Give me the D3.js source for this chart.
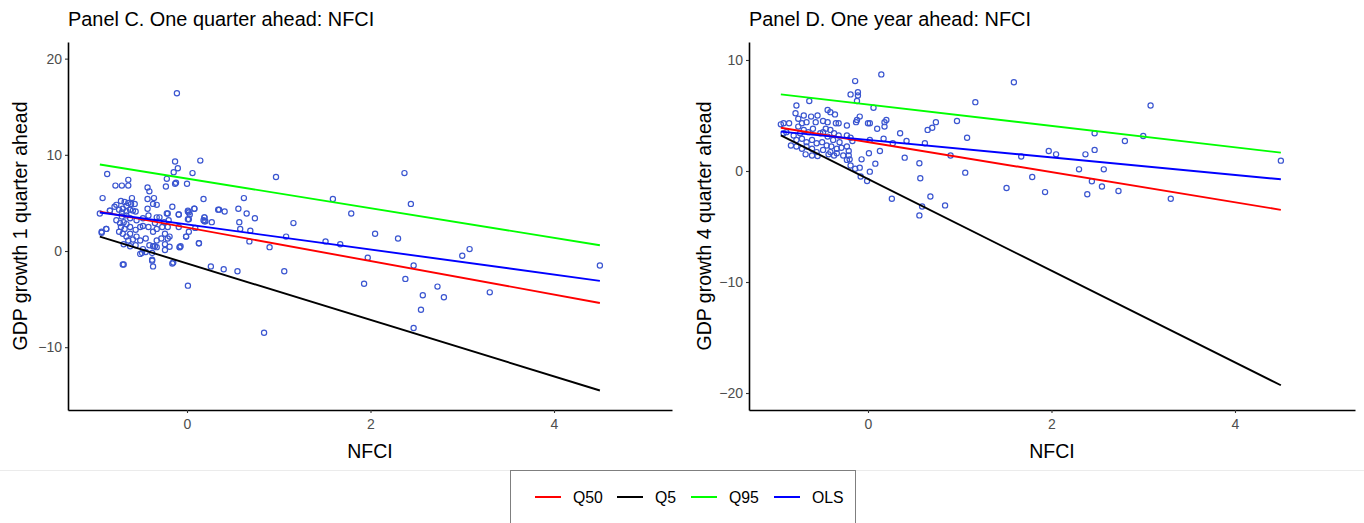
<!DOCTYPE html>
<html>
<head>
<meta charset="utf-8">
<script src="https://cdn.jsdelivr.net/npm/d3@7"></script>
<style>
  body { margin: 0; background: #fff; }
  svg { display: block; font-family: "Liberation Sans", Arial, sans-serif; }
</style>
</head>
<body>
<svg id="chart" width="1364" height="523"></svg>
<script>
// ---- data ----
const seriesNames = ["Q50", "Q5", "Q95", "OLS"];
const seriesColors = ["#ff0000", "#000000", "#00ff00", "#0000ff"];
const lineX = [-0.95, 4.5];

// Panel C: one quarter ahead, line endpoints at lineX
const cLines = {
  Q50: [4.1, -5.4],
  Q5: [1.5, -14.5],
  Q95: [9.0, 0.6],
  OLS: [4.0, -3.1]
};
// Panel D: one year ahead
const dLines = {
  Q50: [3.9, -3.5],
  Q5: [3.2, -19.3],
  Q95: [6.9, 1.65],
  OLS: [3.55, -0.75]
};

const cPoints = [
  [-0.11,16.4],[-0.13,9.3],[0.145,9.4],[-0.1,8.6],[-0.145,8.2],[0.06,8.1],[-0.87,8.0],[0.97,7.7],
  [-0.22,7.5],[-0.64,7.4],[-0.78,6.8],[-0.71,6.8],[-0.64,6.8],[-0.12,7.1],[-0.13,7.0],[0.0,7.0],
  [-0.23,6.7],[-0.43,6.6],[-0.41,6.2],[-0.92,5.5],[-0.6,5.5],[-0.43,5.4],[-0.36,5.5],[0.18,5.4],
  [0.62,5.5],[-0.16,4.6],[0.08,4.4],[0.35,4.3],[0.41,4.1],[0.56,4.4],[0.01,4.2],[0.02,4.0],
  [-0.09,3.8],[-0.22,3.9],[0.65,3.9],[0.74,3.4],[0.19,3.5],[0.18,3.2],[0.19,3.1],[0.27,3.0],
  [0.57,3.0],[1.16,2.9],[0.58,2.3],[0.69,2.1],[0.02,3.3],[-0.09,2.5],[0.09,2.4],[0.02,2.0],
  [1.08,1.5],[-0.01,1.5],[0.68,1.0],[0.13,0.8],[0.9,0.4],[-0.08,0.4],[-0.24,0.7],[-0.33,0.4],
  [-0.37,0.5],[-0.49,-0.2],[-0.38,-1.0],[-0.37,-1.6],[-0.7,-1.4],[-0.15,-1.2],[0.26,-1.6],[0.4,-1.9],
  [0.55,-2.1],[1.06,-2.1],[0.01,-3.6],[0.84,-8.5],[-0.93,1.9],[-0.88,2.3],[-0.95,3.9],[-0.84,4.2],
  [-0.77,3.2],[-0.73,2.9],[-0.69,3.0],[-0.66,2.8],[-0.72,2.5],[-0.68,2.3],[-0.62,2.5],[-0.74,2.0],
  [-0.70,1.8],[-0.66,1.5],[-0.62,1.8],[-0.56,2.2],[-0.51,2.5],[-0.48,2.6],[-0.55,1.5],[-0.59,1.2],
  [-0.64,1.1],[-0.69,0.7],[-0.62,0.5],[-0.56,0.6],[-0.51,1.1],[-0.45,1.3],[-0.48,0.2],[-0.41,0.6],
  [-0.45,-0.1],[-0.38,-0.2],[-0.35,0.5],[-0.33,1.1],[-0.28,1.3],[-0.24,1.8],[-0.21,1.3],[-0.19,1.5],
  [-0.21,2.5],[-0.27,2.5],[-0.33,2.3],[-0.37,2.0],[-0.42,2.5],[-0.35,2.9],[-0.30,3.5],[-0.25,3.0],
  [-0.20,3.2],[-0.42,3.7],[-0.33,3.5],[-0.48,3.4],[-0.55,3.2],[-0.62,3.4],[-0.66,3.7],[-0.71,3.6],
  [-0.88,2.3],[-0.93,2.0],[-0.69,-1.4],[-0.38,-0.9],[-0.07,0.5],[-0.08,0.4],[-0.01,1.5],[0.13,0.8],
  [-0.16,-1.3],[-0.24,0.1],[-0.19,0.45],[-0.51,-0.3],
  [-0.77,4.8],[-0.72,5.2],[-0.68,5.1],[-0.64,5.0],[-0.66,4.7],[-0.61,4.9],[-0.57,4.9],[-0.79,4.6],
  [-0.74,4.3],[-0.70,4.4],[-0.71,4.0],[-0.66,4.1],[-0.62,4.3],[-0.59,4.2],[-0.56,4.1],[-0.84,4.2],
  [-0.43,4.4],[-0.37,4.9],[-0.33,4.8],[-0.21,3.9],[-0.09,3.8],[0.01,4.1],[0.03,3.8],[0.08,4.4],
  [0.01,3.3],[0.19,3.5],[0.2,3.1],[0.34,4.3],
  [2.37,8.1],[1.59,5.4],[2.44,4.9],[1.79,3.9],[2.05,1.8],[2.30,1.3],[1.51,1.0],[1.67,0.7],
  [1.97,-0.7],[3.08,0.2],[3.0,-0.5],[2.47,-1.5],[4.5,-1.5],[1.93,-3.4],[2.38,-2.9],[2.73,-3.7],
  [2.57,-4.6],[2.80,-4.8],[3.30,-4.3],[2.55,-6.1],[2.47,-8.0]
];

const dPoints = [
  [0.145,8.7],[-0.14,8.1],[-0.19,6.9],[-0.11,7.1],[-0.11,6.8],[-0.12,6.3],[-0.64,6.3],[1.17,6.2],
  [-0.78,5.9],[0.06,5.7],[-0.44,5.5],[-0.41,5.3],[-0.36,5.1],[-0.79,5.2],[-0.70,5.0],[-0.62,4.9],
  [-0.55,5.0],[-0.09,4.9],[-0.12,4.6],[-0.13,4.4],[-0.76,4.7],[-0.72,4.3],[-0.67,4.4],[-0.57,4.4],
  [-0.49,4.5],[-0.44,4.4],[-0.35,4.3],[-0.32,4.3],[-0.23,4.1],[0.0,4.3],[0.02,4.3],[0.18,4.4],
  [0.2,4.6],[0.18,4.0],[0.1,3.8],[0.74,4.4],[0.70,3.9],[0.65,3.7],[0.97,4.5],[-0.95,4.2],
  [-0.92,4.3],[-0.86,4.3],[-0.89,3.5],[-0.92,3.4],[-0.84,2.3],[0.35,3.4],[1.08,3.0],[0.42,2.7],
  [0.62,2.5],[0.27,2.5],[0.17,2.9],[0.02,2.8],[-0.23,3.2],[-0.19,3.0],[-0.17,2.7],[-0.32,3.2],
  [-0.37,3.4],[-0.41,3.7],[-0.46,3.8],
  [-0.78,2.8],[-0.72,2.9],[-0.67,2.6],[-0.61,2.8],[-0.56,2.5],[-0.50,2.6],[-0.45,2.3],[-0.40,2.2],
  [-0.34,2.0],[-0.29,2.1],[-0.23,2.2],[-0.21,1.8],[-0.27,1.4],[-0.34,1.6],[-0.41,1.7],[-0.49,1.9],
  [-0.56,1.7],[-0.61,2.0],[-0.67,2.2],[-0.72,2.0],[-0.78,2.2],[-0.68,1.5],[-0.61,1.4],[-0.55,1.35],
  [-0.43,1.5],[-0.37,1.4],[-0.21,1.4],[-0.20,1.05],[-0.23,1.0],
  [-0.76,4.0],[-0.70,3.7],[-0.65,3.5],[-0.60,3.8],[-0.52,3.4],[-0.49,3.5],[-0.44,3.1],[-0.38,2.8],
  [-0.31,2.6],[-0.81,3.2],[-0.74,3.4],
  [-0.07,1.05],[-0.09,0.3],[-0.14,0.2],[-0.19,0.5],[0.02,-0.06],[-0.01,-0.9],[-0.08,-0.5],[0.13,1.8],
  [0.01,1.6],[0.08,0.66],[0.40,1.2],[0.56,0.7],[0.57,-0.66],[0.90,1.4],[1.06,-0.15],[0.26,-2.5],
  [0.68,-2.3],[0.59,-3.2],[0.56,-4.0],[0.84,-3.1],
  [1.59,8.0],[3.08,5.9],[2.47,3.4],[2.80,2.7],[3.0,3.15],[1.97,1.8],[2.05,1.5],[1.67,1.3],
  [2.37,1.5],[2.47,1.9],[4.5,0.93],[2.30,0.15],[2.57,0.15],[1.79,-0.54],[2.44,-0.93],[1.51,-1.53],
  [1.93,-1.9],[2.39,-2.1],[2.55,-1.4],[2.73,-1.8],[3.30,-2.5]
];

const cTicksX = [0, 2, 4];
const cTicksY = [-10, 0, 10, 20];
const dTicksX = [0, 2, 4];
const dTicksY = [-20, -10, 0, 10];

// ---- layout ----
const svg = d3.select("#chart");
const pointColor = "#3a55d0";

function drawPanel(opt) {
  const x = d3.scaleLinear().domain(opt.xDomain).range([opt.left, opt.right]);
  const y = d3.scaleLinear().domain(opt.yDomain).range([opt.bottom, opt.top]);
  const g = svg.append("g");

  // points
  g.selectAll("circle").data(opt.points)
    .join("circle")
    .attr("cx", d => x(d[0]))
    .attr("cy", d => y(d[1]))
    .attr("r", 2.6)
    .attr("fill", "none")
    .attr("stroke", pointColor)
    .attr("stroke-width", 1.2);

  // fitted lines
  seriesNames.forEach((s, i) => {
    const vals = opt.lines[s];
    g.append("line")
      .attr("x1", x(lineX[0])).attr("y1", y(vals[0]))
      .attr("x2", x(lineX[1])).attr("y2", y(vals[1]))
      .attr("stroke", seriesColors[i])
      .attr("stroke-width", 1.9);
  });

  // axes
  const xa = g.append("g")
    .attr("transform", `translate(0,${opt.bottom})`)
    .call(d3.axisBottom(x).tickValues(opt.ticksX).tickSize(3).tickSizeOuter(0).tickPadding(6).tickFormat(d3.format("d")));
  const ya = g.append("g")
    .attr("transform", `translate(${opt.left},0)`)
    .call(d3.axisLeft(y).tickValues(opt.ticksY).tickSize(3).tickSizeOuter(0).tickPadding(3).tickFormat(d3.format("d")));
  [xa, ya].forEach(a => {
    a.select(".domain").attr("stroke", "#000").attr("stroke-width", 1.6);
    a.selectAll(".tick line").attr("stroke", "#333").attr("stroke-width", 1.1);
    a.selectAll(".tick text").attr("fill", "#4d4d4d").style("font-size", "14px")
      .style("font-family", "'Liberation Sans', Arial, sans-serif");
  });

  // titles
  svg.append("text")
    .attr("x", opt.left).attr("y", 26)
    .style("font-size", "19.9px").attr("fill", "#000")
    .text(opt.title);
  svg.append("text")
    .attr("x", (opt.left + opt.right) / 2).attr("y", 458)
    .attr("text-anchor", "middle")
    .style("font-size", "19.5px")
    .text("NFCI");
  svg.append("text")
    .attr("transform", `translate(${opt.yTitleX},${(opt.top + opt.bottom) / 2}) rotate(-90)`)
    .attr("text-anchor", "middle")
    .style("font-size", "19.5px")
    .text(opt.yTitle);
}

drawPanel({
  title: "Panel C. One quarter ahead: NFCI",
  yTitle: "GDP growth 1 quarter ahead",
  points: cPoints, lines: cLines,
  ticksX: cTicksX, ticksY: cTicksY,
  left: 68, right: 672, top: 42, bottom: 410, yTitleX: 27,
  xDomain: [-1.297, 5.286], yDomain: [-16.53, 21.73]
});

drawPanel({
  title: "Panel D. One year ahead: NFCI",
  yTitle: "GDP growth 4 quarter ahead",
  points: dPoints, lines: dLines,
  ticksX: dTicksX, ticksY: dTicksY,
  left: 749, right: 1355, top: 42, bottom: 410, yTitleX: 711,
  xDomain: [-1.297, 5.308], yDomain: [-21.53, 11.62]
});

// separator and legend
svg.append("line")
  .attr("x1", 0).attr("x2", 1364).attr("y1", 470.5).attr("y2", 470.5)
  .attr("stroke", "#ebebeb").attr("stroke-width", 1);

const legend = svg.append("g");
legend.append("rect")
  .attr("x", 510.5).attr("y", 470.5).attr("width", 345).attr("height", 60)
  .attr("fill", "#fff").attr("stroke", "#7f7f7f").attr("stroke-width", 1);

const legendX = [535, 617, 691, 774];
seriesNames.forEach((s, i) => {
  legend.append("line")
    .attr("x1", legendX[i]).attr("x2", legendX[i] + 26)
    .attr("y1", 497).attr("y2", 497)
    .attr("stroke", seriesColors[i]).attr("stroke-width", 2);
  legend.append("text")
    .attr("x", legendX[i] + 38).attr("y", 502.5)
    .style("font-size", "15.8px")
    .text(s);
});
</script>
</body>
</html>
